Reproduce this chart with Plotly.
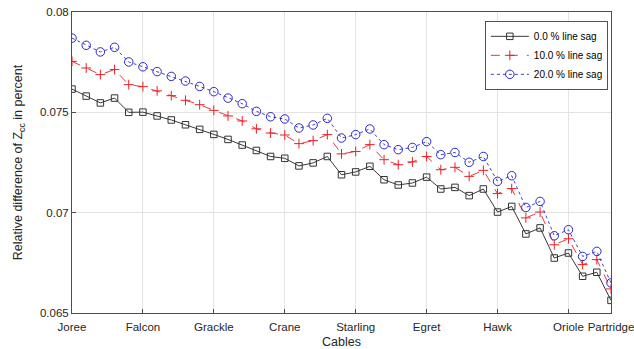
import plotly.graph_objects as go

cable_index = list(range(1, 40))
tick_positions = [1, 6, 11, 16, 21, 26, 31, 36, 39]
tick_labels = ["Joree", "Falcon", "Grackle", "Crane", "Starling", "Egret", "Hawk", "Oriole", "Partridge"]

sag_0 = [0.07616, 0.07581, 0.07547, 0.07571, 0.07500, 0.07501, 0.07482, 0.07462, 0.07438, 0.07415,
         0.07390, 0.07365, 0.07337, 0.07310, 0.07280, 0.07271, 0.07233, 0.07248, 0.07280, 0.07189,
         0.07203, 0.07231, 0.07164, 0.07138, 0.07148, 0.07177, 0.07118, 0.07126, 0.07085, 0.07118,
         0.07003, 0.07031, 0.06894, 0.06924, 0.06774, 0.06799, 0.06683, 0.06703, 0.06563]
sag_10 = [0.07754, 0.07721, 0.07688, 0.07713, 0.07638, 0.07628, 0.07607, 0.07583, 0.07560, 0.07538,
          0.07510, 0.07482, 0.07457, 0.07418, 0.07397, 0.07387, 0.07344, 0.07359, 0.07389, 0.07293,
          0.07305, 0.07339, 0.07264, 0.07239, 0.07253, 0.07280, 0.07214, 0.07226, 0.07181, 0.07211,
          0.07095, 0.07120, 0.06974, 0.07003, 0.06840, 0.06870, 0.06741, 0.06766, 0.06620]
sag_20 = [0.07870, 0.07834, 0.07801, 0.07824, 0.07751, 0.07727, 0.07703, 0.07679, 0.07656, 0.07629,
          0.07603, 0.07571, 0.07543, 0.07505, 0.07478, 0.07467, 0.07422, 0.07437, 0.07470, 0.07372,
          0.07389, 0.07417, 0.07339, 0.07314, 0.07325, 0.07354, 0.07289, 0.07300, 0.07251, 0.07280,
          0.07156, 0.07184, 0.07026, 0.07056, 0.06885, 0.06915, 0.06782, 0.06807, 0.06650]

y_ticks = [0.065, 0.07, 0.075, 0.08]
y_tick_labels = ["0.065", "0.07", "0.075", "0.08"]

font_family = "Liberation Sans, Arial, sans-serif"

fig = go.Figure()
fig.add_trace(go.Scatter(
    x=cable_index, y=sag_0, mode="lines+markers", name="0.0 % line sag",
    line=dict(color="#222222", width=0.9, dash="solid"),
    marker=dict(symbol="square-open", size=6.5, color="#333333", line=dict(width=1))))
fig.add_trace(go.Scatter(
    x=cable_index, y=sag_10, mode="lines+markers", name="10.0 % line sag",
    line=dict(color="#e8202a", width=0.9, dash="dash"),
    marker=dict(symbol="cross-thin-open", size=7, color="#e8202a", line=dict(width=1, color="#e8202a"))))
fig.add_trace(go.Scatter(
    x=cable_index, y=sag_20, mode="lines+markers", name="20.0 % line sag",
    line=dict(color="#2a2ac8", width=0.9, dash="dot"),
    marker=dict(symbol="circle-open", size=8.5, color="#2a2ac8", line=dict(width=1))))

fig.update_layout(
    width=634, height=349,
    margin=dict(l=72, r=23, t=12, b=36),
    paper_bgcolor="white", plot_bgcolor="white",
    font=dict(family=font_family, size=11.5, color="#262626"),
    showlegend=True,
    legend=dict(x=0.9945, y=0.97, xanchor="right", yanchor="top",
                bgcolor="white", bordercolor="#262626", borderwidth=0.8,
                font=dict(size=10, color="#000000"),
                tracegroupgap=0, itemwidth=38),
)
fig.update_xaxes(
    range=[1, 39], tickvals=tick_positions, ticktext=tick_labels,
    showgrid=True, gridcolor="#e3e3e3", gridwidth=1,
    showline=True, linecolor="#4d4d4d", linewidth=1, mirror=True,
    ticks="inside", ticklen=4, tickcolor="#4d4d4d",
    zeroline=False, tickfont=dict(size=11.5), ticklabelstandoff=3,
    ticklabeloverflow="allow", automargin=False,
    title=dict(text="Cables", standoff=6, font=dict(size=12.5)),
)
fig.update_yaxes(
    range=[0.065, 0.08], tickvals=y_ticks, ticktext=y_tick_labels,
    showgrid=True, gridcolor="#e3e3e3", gridwidth=1,
    showline=True, linecolor="#4d4d4d", linewidth=1, mirror=True,
    ticks="inside", ticklen=4, tickcolor="#4d4d4d",
    zeroline=False, tickfont=dict(size=11.5), automargin=False,
    title=dict(text="Relative difference of Z<sub>cc</sub> in percent", standoff=14, font=dict(size=12.5)),
)

fig.write_html("out.html")
